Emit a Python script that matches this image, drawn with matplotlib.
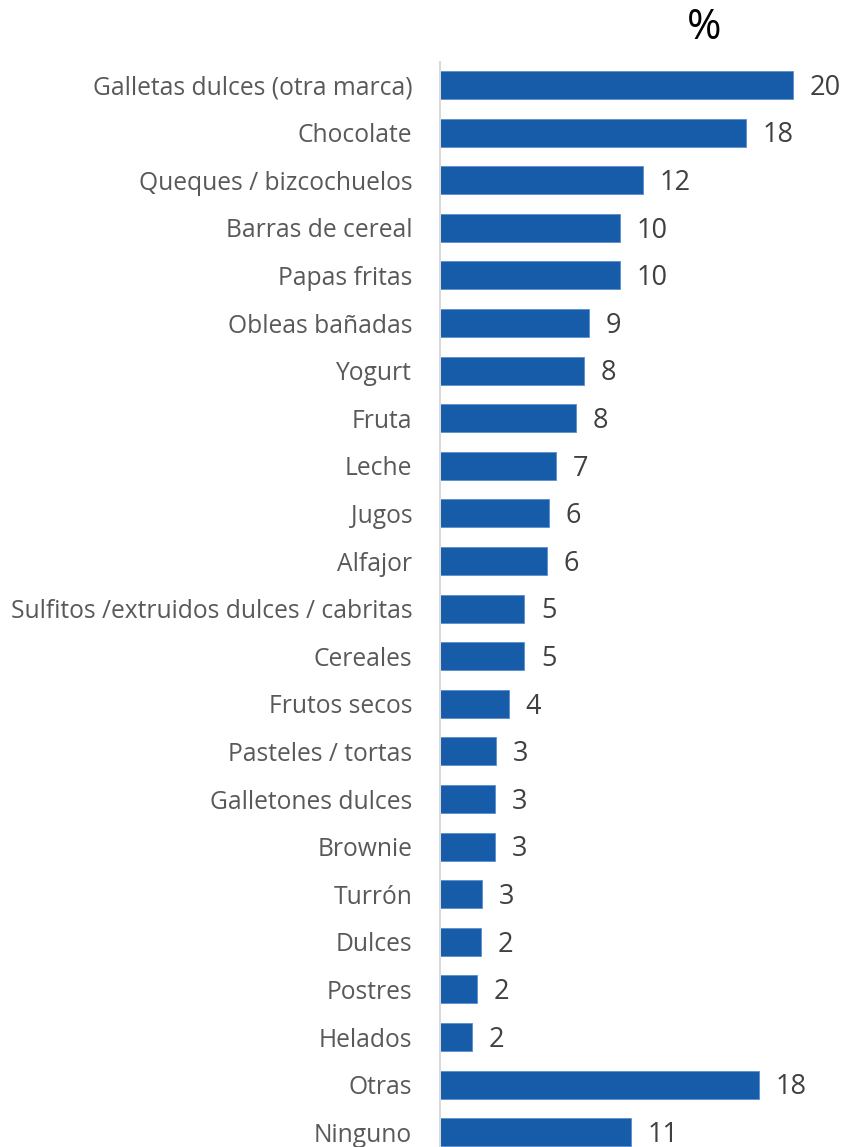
import matplotlib
matplotlib.use("Agg")
from matplotlib import pyplot as plt

categories = [
    "Galletas dulces (otra marca)", "Chocolate", "Queques / bizcochuelos",
    "Barras de cereal", "Papas fritas", "Obleas bañadas", "Yogurt", "Fruta",
    "Leche", "Jugos", "Alfajor", "Sulfitos /extruidos dulces / cabritas",
    "Cereales", "Frutos secos", "Pasteles / tortas", "Galletones dulces",
    "Brownie", "Turrón", "Dulces", "Postres", "Helados", "Otras", "Ninguno",
]
values = [20.15, 17.47, 11.58, 10.29, 10.29, 8.51, 8.21, 7.79, 6.61, 6.21,
          6.11, 4.82, 4.82, 3.93, 3.22, 3.13, 3.13, 2.42, 2.33, 2.13, 1.83,
          18.25, 10.90]
value_labels = ["20", "18", "12", "10", "10", "9", "8", "8", "7", "6", "6",
                "5", "5", "4", "3", "3", "3", "3", "2", "2", "2", "18", "11"]

plt.rcParams['font.family'] = ['Open Sans', 'DejaVu Sans']

W, H = 844, 1147
fig = plt.figure(figsize=(W / 100, H / 100), dpi=100)
ax_top = 61.7
ax = fig.add_axes([440 / W, 0, 404 / W, (H - ax_top) / H])

y = list(range(len(categories)))
ax.barh(y, values, height=0.59, color='#165ca8', edgecolor='#5a8fd0',
        linewidth=0.6)

for yi, v, lab in zip(y, values, value_labels):
    ax.annotate(lab, (v, yi), xytext=(12, -2), textcoords='offset points',
                va='center', ha='left', fontsize=19.5, color='#404040')

ax.set_xlim(0, 404 / 17.5)
ax.set_ylim(22.31, -0.49)
ax.set_yticks(y)
ax.set_yticklabels(categories, fontsize=17.7, color='#595959')
ax.tick_params(axis='y', length=0, pad=20)
ax.set_xticks([])

for side in ['top', 'right', 'bottom']:
    ax.spines[side].set_visible(False)
ax.spines['left'].set_color('#d9d9d9')
ax.spines['left'].set_linewidth(1.5)

fig.text(704 / W, 1 - 28 / H, "%", ha='center', va='center', fontsize=30,
         color='black')

fig.savefig("out.png", dpi=100)
